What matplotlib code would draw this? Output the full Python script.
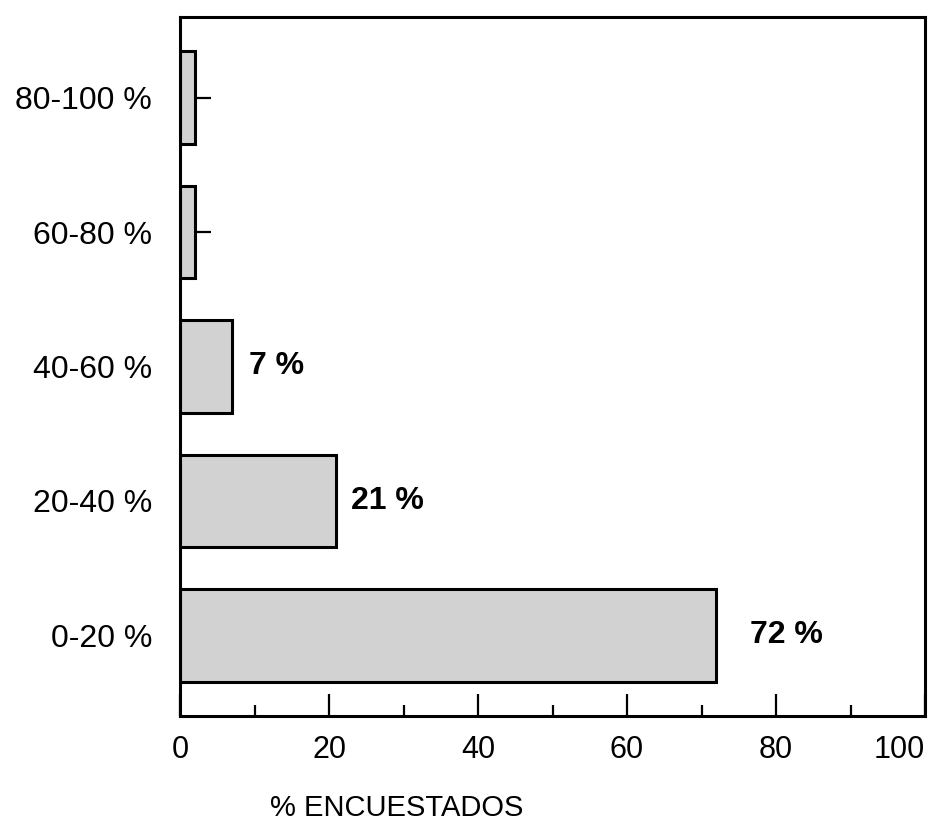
import matplotlib.pyplot as plt
import numpy as np

# Data
categories = ["0-20 %", "20-40 %", "40-60 %", "60-80 %", "80-100 %"]
values = [72, 21, 7, 2, 2]
value_labels = ["72 %", "21 %", "7 %", "", ""]
label_offsets = [4.5, 2.0, 2.3, 0, 0]

plt.rcParams["font.family"] = ["Liberation Sans", "DejaVu Sans"]

fig = plt.figure(figsize=(9.31, 8.24), dpi=100)
ax = fig.add_axes([180/931, 1 - 716/824, 745/931, 699/824])

ypos = np.arange(len(categories))
ax.barh(ypos, values, height=0.69, color="#d2d2d2", edgecolor="black",
        linewidth=2.2, zorder=2)

for y, v, lab, off in zip(ypos, values, value_labels, label_offsets):
  if lab:
    ax.text(v + off, y, lab, fontsize=23, fontweight="bold", va="center",
            ha="left", zorder=3)

ax.set_xlim(0, 100)
ax.set_ylim(-0.6, 4.6)

ax.set_yticks(ypos)
ax.set_yticklabels(categories, fontsize=23)
ax.set_xticks([0, 20, 40, 60, 80, 100])
ax.set_xticks([10, 30, 50, 70, 90], minor=True)
ax.tick_params(axis="x", which="major", direction="in", length=16, width=1.6,
               pad=14, labelsize=22)
ax.tick_params(axis="x", which="minor", direction="in", length=8, width=1.6)
ax.tick_params(axis="y", which="major", direction="in", length=22, width=1.6,
               pad=20, labelsize=23)
for tick in ax.yaxis.get_major_ticks():
  tick.tick1line.set_zorder(4)
# the scan shows the tick labels a little to the right; keep "100" inside
xlabels = ax.get_xticklabels()
xlabels[-1].set_horizontalalignment("right")

for sp in ax.spines.values():
  sp.set_linewidth(2.2)

ax.set_xlabel("% ENCUESTADOS", fontsize=21)
ax.xaxis.set_label_coords((397 - 180) / 745, -0.112)

fig.savefig("out.png", dpi=100)
plt.close(fig)
